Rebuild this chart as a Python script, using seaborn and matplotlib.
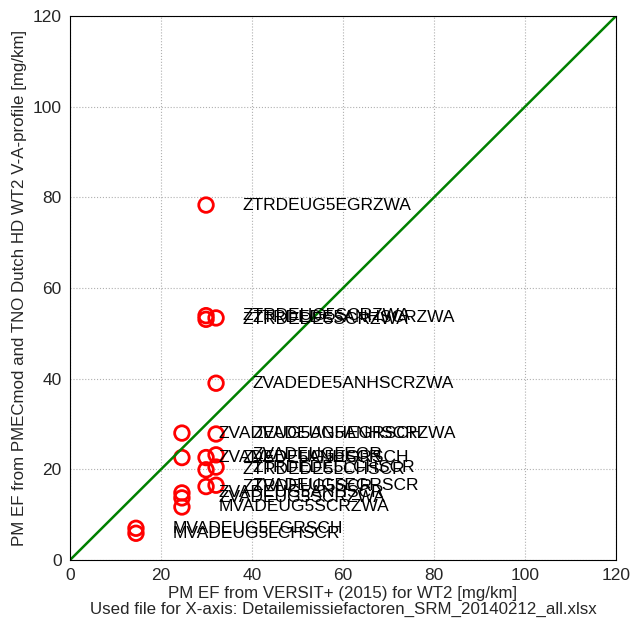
import matplotlib
matplotlib.use("Agg")
import matplotlib.pyplot as plt
import seaborn as sns
import pandas as pd

sns.set_theme(style="white")
plt.rcParams['font.family'] = ['Liberation Sans', 'DejaVu Sans']

x_vals = [29.9, 29.9, 29.9, 32.1, 32.1, 24.6, 32.1, 24.6, 29.9, 32.1, 29.9, 32.1,
          29.9, 32.1, 24.6, 24.6, 24.6, 14.5, 14.5]
y_vals = [78.3, 53.9, 53.1, 53.4, 39.0, 28.0, 27.8, 22.6, 22.6, 23.2, 19.9, 20.5,
          16.2, 16.5, 14.8, 13.7, 11.7, 7.0, 5.9]
labels = ["ZTRDEUG5EGRZWA", "ZTRDEUG5SCRZWA", "ZTRDEDE5SCRZWA", "ZTRDEDE5ANHSCRZWA",
          "ZVADEDE5ANHSCRZWA", "ZVADEUG5ANHEGRSCH", "ZVADEUG5ANHSCRZWA",
          "ZVADEDE5ANHSCR", "ZVADEUG5EGRSCH", "ZVADEUG5EGR", "ZTRDEDE5LCHSCR",
          "ZTRDEDE5LCHSCR", "ZTRDEUG5SCR", "ZVADEUG5EGRSCR", "ZVADEUG5ANHSCR",
          "ZVADEUG5SCRZWA", "MVADEUG5SCRZWA", "MVADEUG5EGRSCH", "MVADEUG5LCHSCR"]
diag = [0, 120]

df = pd.DataFrame({"x": x_vals, "y": y_vals, "label": labels})
ddf = pd.DataFrame({"x": diag, "y": diag})

fig = plt.figure(figsize=(6.34, 6.31), dpi=100)
ax = fig.add_axes([0.1104, 0.1125, 0.8612, 0.8621])

sns.lineplot(data=ddf, x="x", y="y", ax=ax, color=(0, 0.5, 0), linewidth=1.8)
sns.scatterplot(data=df, x="x", y="y", ax=ax, marker="o", s=110,
                facecolor="none", edgecolor="red", linewidth=2)
for xv, yv, lab in zip(x_vals, y_vals, labels):
    ax.text(xv + 8, yv, lab, fontsize=12.5, va="center", ha="left", color="black")

ax.set_xlim(0, 120)
ax.set_ylim(0, 120)
ax.set_xticks(range(0, 121, 20))
ax.set_yticks(range(0, 121, 20))
ax.grid(True, linestyle=":", color="#b0b0b0", linewidth=0.8)
ax.tick_params(direction="in", labelsize=12.5, length=4, color="black", pad=6)
for s in ax.spines.values():
    s.set_color("black")
    s.set_linewidth(0.8)
ax.set_xlabel("PM EF from VERSIT+ (2015) for WT2 [mg/km]\nUsed file for X-axis: Detailemissiefactoren_SRM_20140212_all.xlsx",
              fontsize=12.2, labelpad=2, linespacing=1.05)
ax.set_ylabel("PM EF from PMECmod and TNO Dutch HD WT2 V-A-profile [mg/km]", fontsize=12.2, labelpad=4)

fig.savefig("out.png", dpi=100)
